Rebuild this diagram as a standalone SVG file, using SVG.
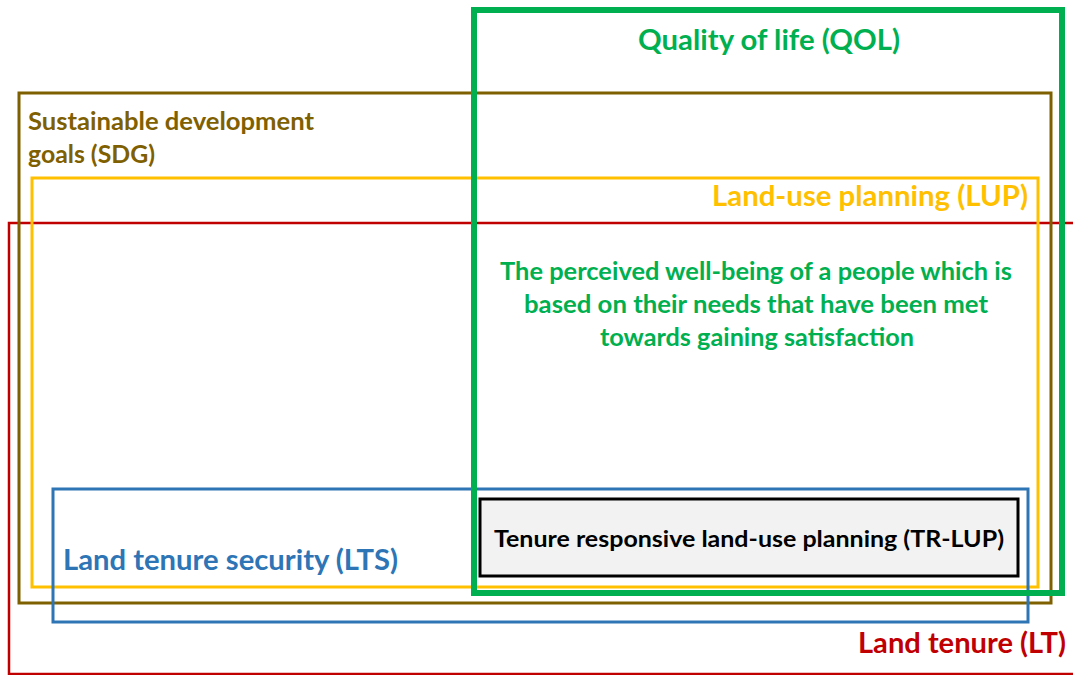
<svg xmlns="http://www.w3.org/2000/svg" width="1073" height="675" viewBox="0 0 1073 675">
  <style>
    .frame { fill: none; }
    .lbl { font-family: Lato, "Liberation Sans", sans-serif; font-weight: bold; }
  </style>
  <rect width="1073" height="675" fill="#ffffff"/>

  <!-- Land tenure (outermost, runs off the right edge) -->
  <g id="lt">
    <rect class="frame" x="9" y="223" width="1080" height="451" stroke="#c00000" stroke-width="2.5"/>
    <text class="lbl" x="1066" y="653" text-anchor="end" font-size="28" fill="#c00000" textLength="208" lengthAdjust="spacingAndGlyphs">Land tenure (LT)</text>
  </g>

  <!-- Sustainable development goals -->
  <g id="sdg">
    <rect class="frame" x="19" y="93" width="1032" height="510" stroke="#7f6000" stroke-width="3"/>
    <text class="lbl" x="28" y="130" font-size="25" fill="#7f6000" textLength="286" lengthAdjust="spacingAndGlyphs">Sustainable development</text>
    <text class="lbl" x="28" y="163" font-size="25" fill="#7f6000" textLength="127" lengthAdjust="spacingAndGlyphs">goals (SDG)</text>
  </g>

  <!-- Land-use planning -->
  <g id="lup">
    <rect class="frame" x="32" y="178" width="1006" height="409" stroke="#ffc000" stroke-width="3"/>
    <text class="lbl" x="1028" y="206" text-anchor="end" font-size="28" fill="#ffc000" textLength="316" lengthAdjust="spacingAndGlyphs">Land-use planning (LUP)</text>
  </g>

  <!-- Land tenure security -->
  <g id="lts">
    <rect class="frame" x="53" y="489" width="975" height="133" stroke="#2e75b6" stroke-width="3"/>
    <text class="lbl" x="63" y="570" font-size="28" fill="#2e75b6" textLength="335" lengthAdjust="spacingAndGlyphs">Land tenure security (LTS)</text>
  </g>

  <!-- Quality of life -->
  <g id="qol">
    <rect class="frame" x="474" y="10" width="588" height="583" stroke="#00b050" stroke-width="6"/>
    <text class="lbl" x="769" y="50" text-anchor="middle" font-size="29" fill="#00b050" textLength="262" lengthAdjust="spacingAndGlyphs">Quality of life (QOL)</text>
    <g class="lbl" font-size="24" fill="#00b050" text-anchor="middle">
      <text x="756" y="280" textLength="512" lengthAdjust="spacingAndGlyphs">The perceived well-being of a people which is</text>
      <text x="756" y="313" textLength="464" lengthAdjust="spacingAndGlyphs">based on their needs that have been met</text>
      <text x="757" y="346" textLength="314" lengthAdjust="spacingAndGlyphs">towards gaining satisfaction</text>
    </g>
  </g>

  <!-- Tenure responsive land-use planning -->
  <g id="trlup">
    <rect x="480" y="499" width="538" height="77" fill="#f2f2f2" stroke="#000000" stroke-width="3"/>
    <text class="lbl" x="749" y="547" text-anchor="middle" font-size="23" fill="#000000" textLength="510" lengthAdjust="spacingAndGlyphs">Tenure responsive land-use planning (TR-LUP)</text>
  </g>
</svg>
